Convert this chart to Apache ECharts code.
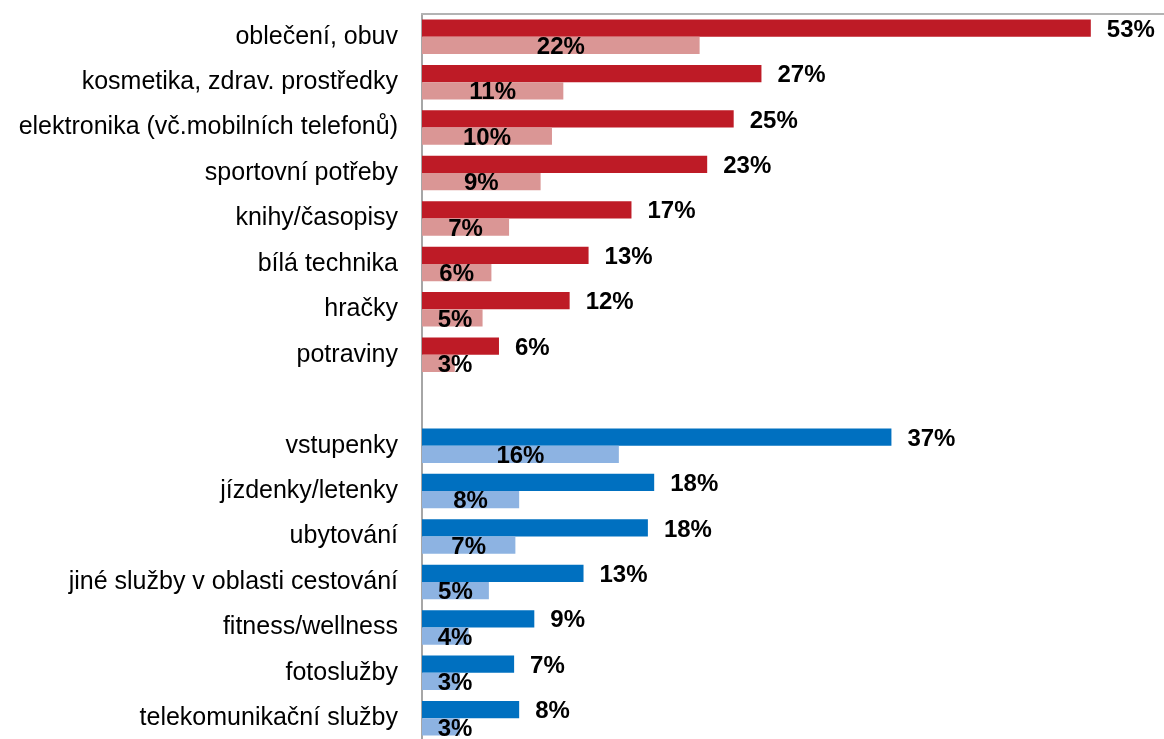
<!DOCTYPE html>
<html>
<head>
<meta charset="utf-8">
<script src="https://cdn.jsdelivr.net/npm/echarts@6/dist/echarts.min.js"></script>
<style>
  html, body { margin: 0; padding: 0; background: #fff; }
  #chart { width: 1164px; height: 739px; }
</style>
</head>
<body>
<div id="chart"></div>
<script>
const goodsCategories = [
  'oblečení, obuv',
  'kosmetika, zdrav. prostředky',
  'elektronika (vč.mobilních telefonů)',
  'sportovní potřeby',
  'knihy/časopisy',
  'bílá technika',
  'hračky',
  'potraviny'
];
const servicesCategories = [
  'vstupenky',
  'jízdenky/letenky',
  'ubytování',
  'jiné služby v oblasti cestování',
  'fitness/wellness',
  'fotoslužby',
  'telekomunikační služby'
];
// dark bars / light bars (percent)
const goodsMain = [53.0, 26.9, 24.7, 22.6, 16.6, 13.2, 11.7, 6.1];
const goodsLight = [22.0, 11.2, 10.3, 9.4, 6.9, 5.5, 4.8, 2.6];
const servicesMain = [37.2, 18.4, 17.9, 12.8, 8.9, 7.3, 7.7];
const servicesLight = [15.6, 7.7, 7.4, 5.3, 3.7, 3.0, 3.0];

const RED = '#BE1B26';
const RED_LIGHT = '#DA9695';
const BLUE = '#0070C0';
const BLUE_LIGHT = '#8DB3E2';
const FONT = "'Liberation Sans', Arial, sans-serif";
const AXIS_MAX = 58.8;
const PX_PER_UNIT = 742 / AXIS_MAX;

const categories = goodsCategories.concat([''], servicesCategories);
const nGoods = goodsCategories.length;

const pct = (p) => Math.round(p.value) + '%';

const mainData = goodsMain.concat(['-'], servicesMain).map((v, i) => ({
  value: v,
  itemStyle: { color: i < nGoods ? RED : BLUE }
}));

const lightData = goodsLight.concat(['-'], servicesLight).map((v, i) => {
  // short bars: keep the label clear of the axis
  const shift = v === '-' ? 0 : Math.max(0, 33 - v * PX_PER_UNIT / 2);
  return {
    value: v,
    itemStyle: { color: i < nGoods ? RED_LIGHT : BLUE_LIGHT },
    label: { offset: [shift, 2] }
  };
});

const labelText = {
  color: '#000',
  fontFamily: FONT,
  fontSize: 24,
  fontWeight: 'bold',
  formatter: pct
};

const chart = echarts.init(document.getElementById('chart'));
chart.setOption({
  animation: false,
  grid: { left: 422, top: 14, width: 742, height: 727, outerBoundsMode: 'none' },
  xAxis: {
    type: 'value',
    position: 'top',
    min: 0,
    max: AXIS_MAX,
    axisLine: { show: true, lineStyle: { color: '#B3B3B3', width: 2 } },
    axisTick: { show: false },
    axisLabel: { show: false },
    splitLine: { show: false }
  },
  yAxis: {
    type: 'category',
    inverse: true,
    data: categories,
    axisLine: { lineStyle: { color: '#A6A6A6', width: 2 } },
    axisTick: { length: 7, lineStyle: { color: '#A6A6A6', width: 1 } },
    axisLabel: {
      color: '#000',
      fontFamily: FONT,
      fontSize: 25,
      margin: 24,
      padding: [5, 0, 0, 0]
    }
  },
  series: [
    {
      type: 'bar',
      data: mainData,
      barWidth: '38%',
      barGap: '0%',
      label: Object.assign({ show: true, position: 'right', distance: 16, offset: [0, 2] }, labelText)
    },
    {
      type: 'bar',
      data: lightData,
      barWidth: '38%',
      label: Object.assign({ show: true, position: 'inside' }, labelText)
    }
  ]
});
</script>
</body>
</html>
